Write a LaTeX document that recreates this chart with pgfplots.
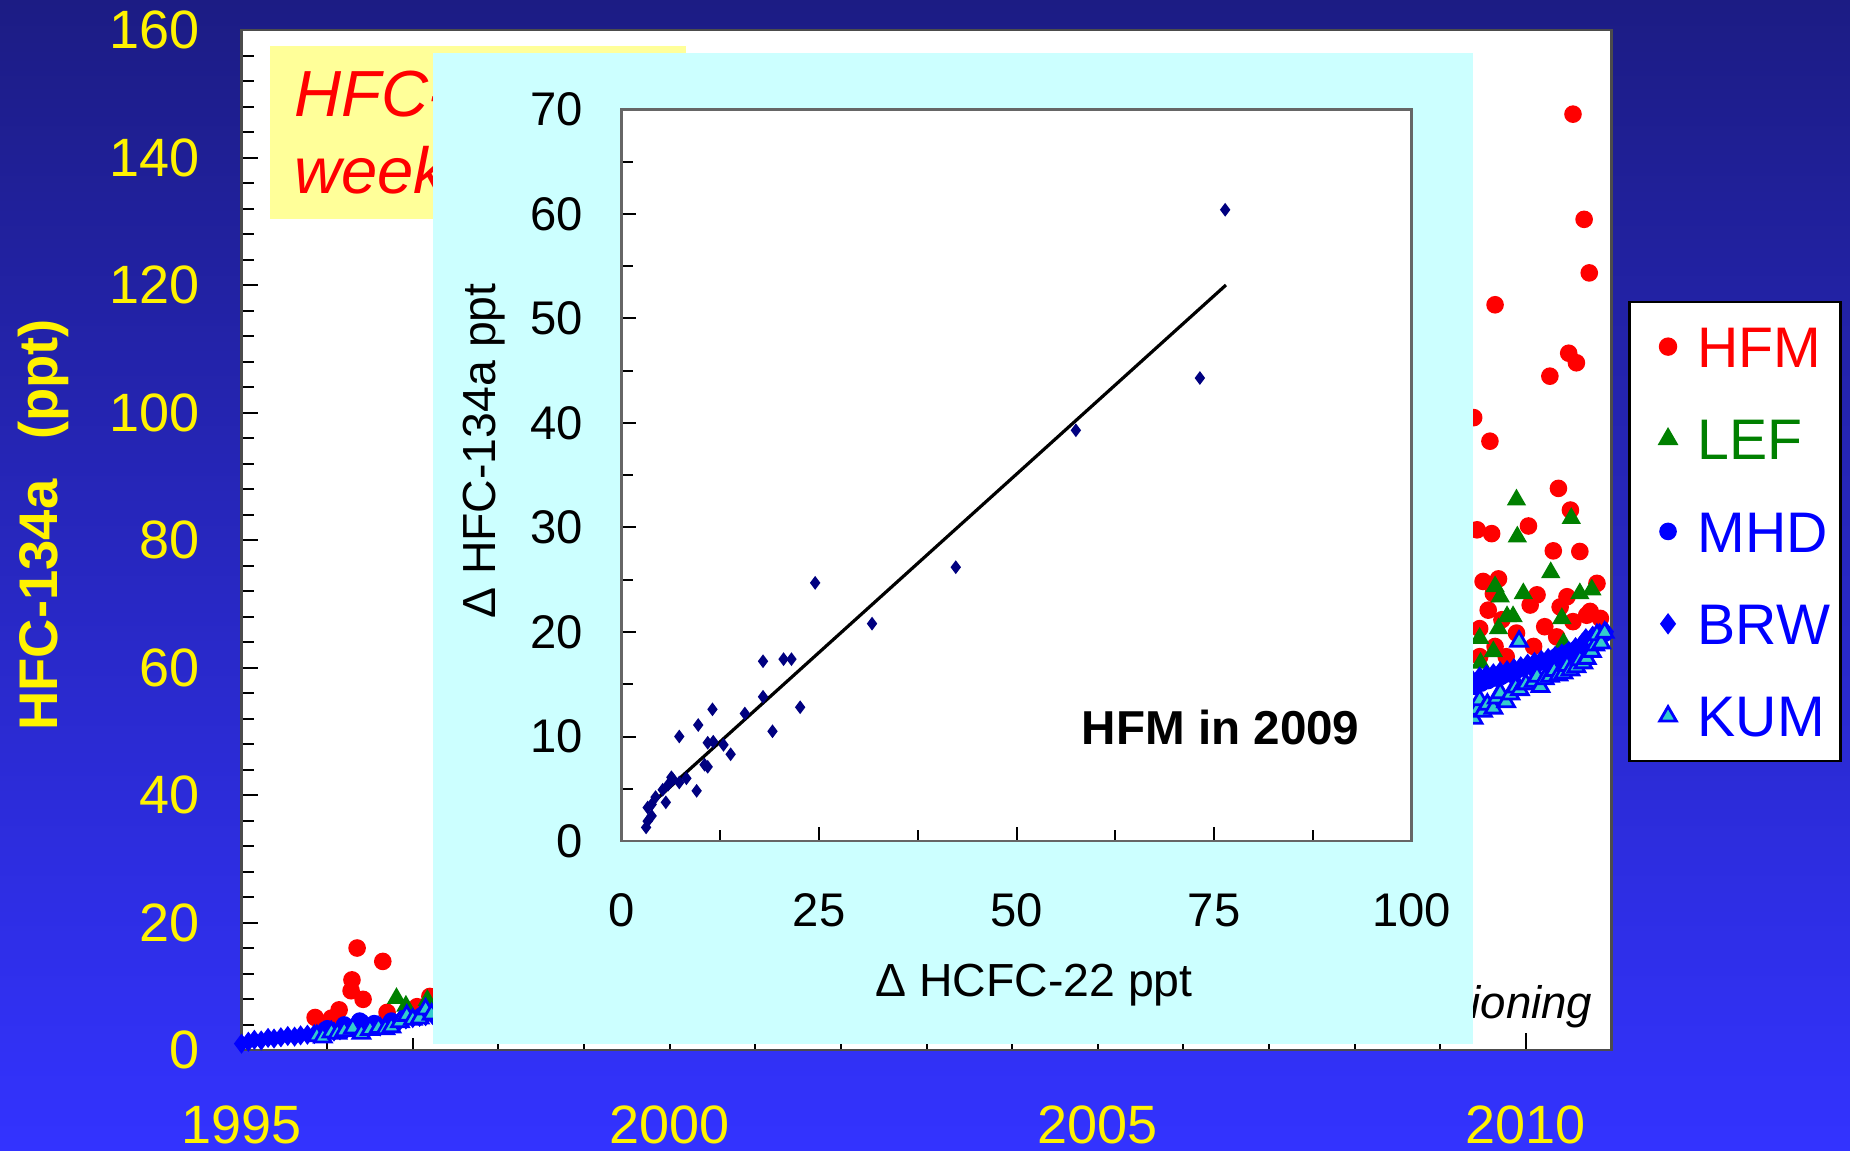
\documentclass[border=0pt]{standalone}
\usepackage{pgfplots}
\pgfplotsset{compat=1.18}
\usepackage{fontspec}
\setmainfont{Liberation Sans}
\definecolor{bgtop}{RGB}{28,28,132}
\definecolor{bgbot}{RGB}{51,51,255}
\definecolor{lefgreen}{RGB}{0,128,0}
\definecolor{kumcyan}{RGB}{51,204,204}
\definecolor{insetcyan}{RGB}{204,255,255}
\definecolor{boxyel}{RGB}{255,255,153}
\definecolor{navy}{RGB}{0,0,128}

\pgfplotstableread{
x y
1995.86 5.1
1996.05 5.0
1996.14 6.3
1996.28 9.3
1996.29 11.0
1996.35 16.0
1996.42 7.95
1996.65 13.9
1996.70 5.9
1997.05 6.8
1997.20 8.4
2009.39 99.2
2009.58 95.5
2009.64 116.9
2010.55 146.8
2010.68 130.3
2010.74 121.9
2010.50 109.3
2010.59 107.8
2010.28 105.7
2010.38 88.1
2010.52 84.7
2009.43 81.6
2009.60 81.0
2010.03 82.2
2010.32 78.3
2010.63 78.2
2009.50 73.5
2009.68 73.9
2010.83 73.2
2010.13 71.4
2010.48 71.1
2009.56 69.0
2010.05 69.8
2010.40 69.5
2010.75 68.8
2010.87 67.7
2009.46 66.1
2009.89 65.4
2010.22 66.4
2010.55 67.2
2009.64 63.3
2010.09 63.3
2010.36 64.8
2009.77 61.7
2009.46 61.7
2010.71 68.2
2009.62 71.6
2009.72 67.5
}\hfm

\pgfplotstableread{
x y
1996.81 8.1
1996.92 6.9
1997.17 7.8
2009.89 86.3
2010.53 83.4
2009.90 80.5
2010.29 74.9
2009.64 72.7
2009.70 71.1
2009.97 71.6
2010.63 71.6
2010.77 72.2
2009.78 68.0
2009.85 68.0
2010.42 67.7
2009.68 66.1
2009.46 64.6
2009.62 62.5
2009.47 60.7
2010.44 63.8
}\lef

\pgfplotstableread{
x y
1996.00 3.4
1996.20 4.0
1996.38 4.6
1996.55 4.2
1996.75 4.6
1996.90 5.0
1997.10 5.4
1997.20 5.8
2009.40 57.0
2009.48 57.5
2009.56 57.9
2009.64 58.3
2009.72 58.6
2009.80 59.0
2009.88 59.4
2009.96 59.9
2010.04 60.2
2010.12 60.6
2010.20 61.0
2010.28 61.3
2010.36 61.8
2010.44 62.1
2010.52 62.6
2010.60 63.0
2010.68 63.5
2010.76 64.2
2010.84 64.8
2010.92 65.3
}\mhd

\pgfplotstableread{
x y
1995.00 1.0
1995.08 1.3
1995.15 1.6
1995.23 1.5
1995.31 1.9
1995.38 1.8
1995.46 2.0
1995.54 2.2
1995.62 2.1
1995.69 2.3
1995.77 2.4
1995.85 2.5
1995.92 2.7
1996.00 2.6
1996.08 2.9
1996.15 3.1
1996.23 3.3
1996.31 3.6
1996.38 4.3
1996.46 3.9
1996.54 3.8
1996.62 3.7
1996.69 4.0
1996.77 4.3
1996.85 4.6
1996.92 4.8
1997.00 5.0
1997.08 5.2
1997.15 5.3
1997.23 5.5
2009.38 58.0
2009.42 57.2
2009.46 58.6
2009.50 57.8
2009.54 58.9
2009.58 58.2
2009.62 59.1
2009.66 58.5
2009.70 59.4
2009.74 58.8
2009.78 59.6
2009.82 59.0
2009.86 59.9
2009.90 59.3
2009.94 60.2
2009.98 59.8
2010.02 60.6
2010.06 60.0
2010.10 60.9
2010.14 60.3
2010.18 61.2
2010.22 60.7
2010.26 61.5
2010.30 61.0
2010.34 61.8
2010.38 61.4
2010.42 62.2
2010.46 61.8
2010.50 62.6
2010.54 62.3
2010.58 63.2
2010.62 62.8
2010.66 63.9
2010.70 64.6
2010.74 64.2
2010.78 65.0
2010.82 64.6
2010.86 65.4
2010.90 65.0
2010.94 65.6
}\brw

\pgfplotstableread{
x y
1995.88 2.2
1995.95 2.0
1996.05 2.8
1996.12 2.6
1996.20 3.0
1996.30 3.4
1996.40 2.6
1996.50 3.2
1996.60 3.5
1996.68 3.3
1996.75 3.6
1996.85 4.4
1996.93 5.4
1997.00 4.8
1997.08 5.0
1997.15 6.4
1997.22 5.6
2009.39 52.0
2009.43 53.4
2009.46 54.9
2009.50 53.1
2009.55 54.2
2009.62 53.6
2009.66 55.2
2009.70 56.0
2009.77 54.6
2009.82 55.8
2009.88 56.9
2009.92 64.1
2009.93 56.5
2010.00 57.4
2010.09 57.8
2010.13 58.6
2010.17 57.0
2010.22 58.2
2010.28 58.6
2010.33 59.5
2010.38 58.8
2010.44 59.1
2010.48 60.3
2010.52 59.6
2010.59 60.1
2010.63 61.2
2010.67 60.7
2010.71 61.4
2010.77 62.5
2010.79 64.3
2010.81 63.5
2010.83 65.1
2010.88 63.8
2010.92 65.5
}\kum

\pgfplotstableread{
x y
76.4 60.4
73.2 44.3
57.5 39.3
42.3 26.2
31.7 20.8
24.5 24.7
17.9 17.2
20.5 17.4
21.5 17.4
17.9 13.8
22.6 12.8
11.5 12.6
15.6 12.2
9.7 11.1
19.1 10.5
7.3 10.0
11.6 9.5
10.9 9.4
12.9 9.2
13.8 8.3
10.5 7.3
10.9 7.1
6.3 6.1
6.5 5.9
8.2 6.0
7.3 5.6
5.9 5.4
5.2 4.9
9.5 4.8
4.3 4.2
5.6 3.7
3.8 3.5
3.3 3.2
3.8 2.4
3.3 1.9
3.1 1.3
}\inset

\begin{document}
\begin{tikzpicture}
\useasboundingbox (0pt,0pt) rectangle (462.5pt,287.5pt);
\shade[top color=bgtop, bottom color=bgbot] (0pt,0pt) rectangle (462.5pt,287.5pt);

\begin{axis}[
  at={(60.375pt,25pt)}, anchor=south west,
  width=342.5pt, height=255pt, scale only axis,
  xmin=1995, xmax=2011, ymin=0, ymax=160,
  xtick={1995,2000,2005,2010}, xticklabels={1995,2000,2005,2010},
  minor xtick={1996,1997,1998,1999,2001,2002,2003,2004,2006,2007,2008,2009,2011},
  ytick={0,20,...,160}, minor y tick num=4,
  tick pos=left, tick align=inside,
  major tick length=4.2pt, minor tick length=3pt,
  tick style={black, line width=0.5pt},
  axis line style={draw=black!70, line width=0.7pt},
  axis background/.style={fill=white},
  /pgf/number format/assume math mode=true,
  ticklabel style={text=yellow, font=\fontsize{13.5}{16}\selectfont},
  xticklabel style={anchor=north, inner sep=0pt, yshift=-13.75pt},
  yticklabel style={anchor=east, inner sep=0pt, xshift=-10.4pt},
  ylabel={HFC-134a\hspace{10pt}(ppt)},
  ylabel style={at={(axis description cs:-0.1447,0.515)}, anchor=center, text=yellow, font=\bfseries\fontsize{13.6}{16}\selectfont},
  legend style={at={(1.01234,0.7345)}, anchor=north west, draw=black, line width=0.6pt, fill=white,
    inner xsep=2.6pt, inner ysep=6pt, row sep=12.8pt, font=\fontsize{14.3}{16}\selectfont,
    nodes={inner sep=0pt, text height=10.3pt, text depth=0pt},
    /tikz/every odd column/.append style={column sep=4.9pt}},
  legend cell align=left,
  legend image code/.code={\path (-6.7pt,0pt) (2.2pt,0pt); \draw[#1] plot coordinates {(0pt,0pt)};},
]
\addplot[only marks, mark=*, mark size=2pt, color=red] table {\hfm};
\addlegendentry{\textcolor{red}{HFM}}
\addplot[only marks, mark=triangle*, mark size=2.4pt, color=lefgreen] table {\lef};
\addlegendentry{\textcolor{lefgreen}{LEF}}
\addplot[only marks, mark=*, mark size=1.9pt, color=blue] table {\mhd};
\addlegendentry{\textcolor{blue}{MHD}}
\addplot[only marks, mark=diamond*, mark size=2.2pt, color=blue] table {\brw};
\addlegendentry{\textcolor{blue}{BRW}}
\addplot[only marks, mark=triangle*, mark size=2.4pt, draw=blue, fill=kumcyan, mark options={line width=0.7pt, draw=blue, fill=kumcyan}] table {\kum};
\addlegendentry{\textcolor{blue}{KUM}}
\end{axis}

\fill[boxyel] (67.5pt,232.75pt) rectangle (171.4pt,276pt);
\node[anchor=base west, inner sep=0pt, text=red, font=\fontsize{16.3}{19}\selectfont\itshape] at (73.4pt,258.3pt) {HFC-134a};
\node[anchor=base west, inner sep=0pt, text=red, font=\fontsize{16.3}{19}\selectfont\itshape] at (73.4pt,239.2pt) {weekly flasks};
\node[anchor=base east, inner sep=0pt, font=\fontsize{11.4}{13}\selectfont\itshape] at (398.3pt,33pt) {Emissions from air conditioning};

\fill[insetcyan] (108.3pt,26.5pt) rectangle (368.3pt,274.2pt);

\begin{axis}[
  at={(155.4pt,77.25pt)}, anchor=south west,
  width=197.5pt, height=182.9pt, scale only axis,
  xmin=0, xmax=100, ymin=0, ymax=70,
  xtick={0,25,50,75,100}, minor x tick num=1,
  ytick={0,10,...,70}, minor y tick num=1,
  tick pos=left, tick align=inside,
  major tick length=3.6pt, minor tick length=2.8pt,
  tick style={black, line width=0.5pt},
  axis line style={draw=black!60, line width=0.6pt},
  axis background/.style={fill=white},
  /pgf/number format/assume math mode=true,
  ticklabel style={font=\fontsize{11.8}{14}\selectfont},
  xticklabel style={anchor=north, inner sep=0pt, yshift=-13pt},
  yticklabel style={anchor=east, inner sep=0pt, xshift=-9.4pt},
  xlabel={Δ HCFC-22 ppt},
  xlabel style={at={(axis description cs:0.522,-0.197)}, anchor=center, font=\fontsize{11.6}{14}\selectfont},
  ylabel={Δ HFC-134a ppt},
  ylabel style={at={(axis description cs:-0.174,0.533)}, anchor=center, font=\fontsize{11.6}{14}\selectfont},
]
\addplot[black, line width=0.8pt] coordinates {(3.1,3.1) (76.5,53.2)};
\addplot[only marks, mark=diamond*, mark size=1.4pt, color=navy] table {\inset};
\node[anchor=base east, inner sep=0pt, font=\bfseries\fontsize{11.9}{14}\selectfont] at (axis cs:93.5,9.2) {HFM in 2009};
\end{axis}
\end{tikzpicture}
\end{document}
